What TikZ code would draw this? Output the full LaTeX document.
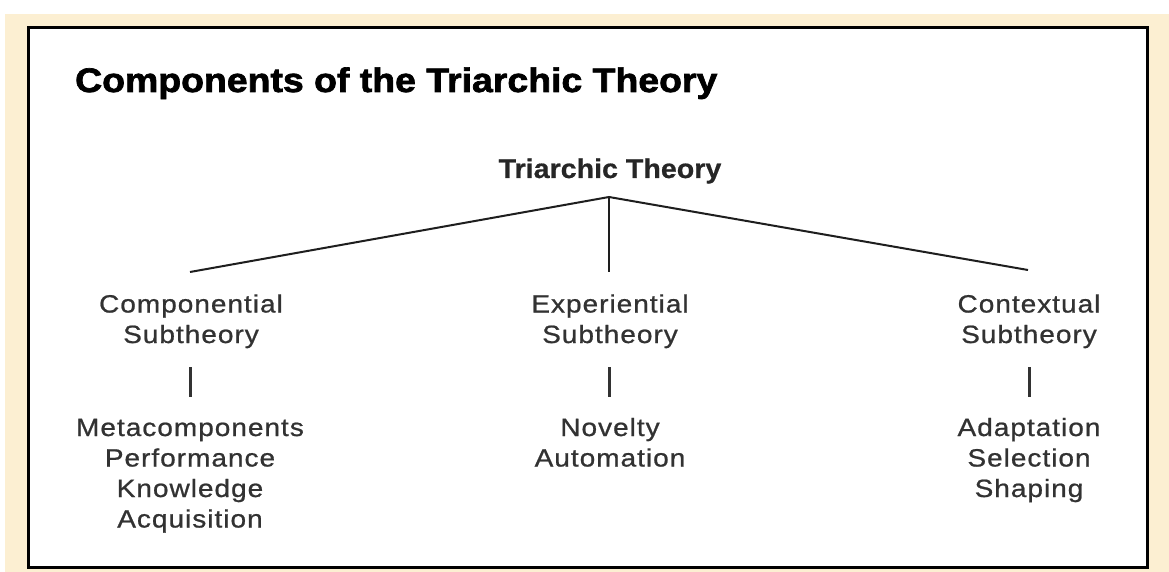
\documentclass[tikz,border=0pt]{standalone}
\usepackage{fontspec}
\setmainfont{Liberation Sans}
\newfontfamily\bodyfont[FakeStretch=1.12,LetterSpace=4,FakeBold=0.8]{Liberation Sans}
\newfontfamily\headfont[FakeStretch=1.1,FakeBold=2]{Liberation Sans Bold}
\newfontfamily\subheadfont[FakeStretch=1.06,FakeBold=0.6]{Liberation Sans Bold}
\definecolor{cream}{RGB}{252,239,210}
\definecolor{txt}{RGB}{50,50,50}
\definecolor{ln}{RGB}{30,30,30}
\begin{document}
\begin{tikzpicture}[x=1pt,y=-1pt,
  bodytxt/.style={font=\bodyfont\fontsize{25}{30.5}\selectfont, text=txt, align=center, inner sep=0pt, anchor=base},
  branch/.style={draw=ln, line width=2pt},
  bar/.style={draw=txt, line width=3pt}]
\useasboundingbox (0,0) rectangle (1169,572);
\fill[white] (0,0) rectangle (1169,572);
\fill[cream] (5,14) rectangle (1169,572);
\draw[black, line width=3pt, fill=white] (28,28) rectangle (1147,567);
\node[font=\headfont\fontsize{34}{40}\selectfont, anchor=base west, inner sep=0pt] (title) at (75,92) {Components of the Triarchic Theory};
\node[font=\subheadfont\fontsize{27}{32}\selectfont, text=black!85, anchor=base, inner sep=0pt] (tt) at (610,178) {Triarchic Theory};
\coordinate (apex) at (609,197);
\coordinate (cl) at (190,272);
\coordinate (ce) at (609,272);
\coordinate (cr) at (1028,270);
\draw[branch] (cl) -- (apex) -- (cr);
\draw[branch] (apex) -- (ce);
% base anchor = baseline of the last line
\node[bodytxt] (comp) at (191,343) {Componential\\Subtheory};
\node[bodytxt] (expe) at (610,343) {Experiential\\Subtheory};
\node[bodytxt] (cont) at (1029,343) {Contextual\\Subtheory};
\coordinate (b1t) at (190,367); \coordinate (b1b) at (190,397);
\coordinate (b2t) at (609,367); \coordinate (b2b) at (609,397);
\coordinate (b3t) at (1029,367); \coordinate (b3b) at (1029,397);
\draw[bar] (b1t) -- (b1b);
\draw[bar] (b2t) -- (b2b);
\draw[bar] (b3t) -- (b3b);
\node[bodytxt] (compi) at (190,527.5) {Metacomponents\\Performance\\Knowledge\\Acquisition};
\node[bodytxt] (expei) at (610,466.5) {Novelty\\Automation};
\node[bodytxt] (conti) at (1029,497) {Adaptation\\Selection\\Shaping};
\end{tikzpicture}
\end{document}
